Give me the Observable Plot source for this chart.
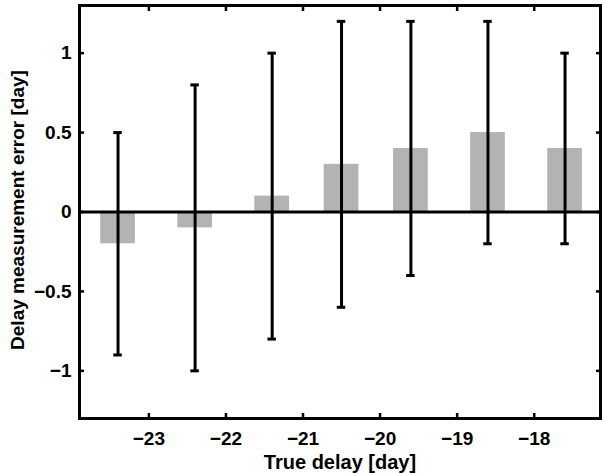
<!DOCTYPE html>
<html>
<head>
<meta charset="utf-8">
<script src="https://cdn.jsdelivr.net/npm/d3@7"></script>
<script src="https://cdn.jsdelivr.net/npm/@observablehq/plot@0.6"></script>
<style>
  html, body { margin: 0; padding: 0; background: #fff; }
  #chart svg { display: block; }
</style>
</head>
<body>
<div id="chart"></div>
<script>
const trueDelay = [-23.4, -22.4, -21.4, -20.5, -19.6, -18.6, -17.6];
const meanError = [-0.2, -0.1, 0.1, 0.3, 0.4, 0.5, 0.4];
const errLow    = [-0.9, -1.0, -0.8, -0.6, -0.4, -0.2, -0.2];
const errHigh   = [0.5, 0.8, 1.0, 1.2, 1.2, 1.2, 1.0];
const xTicks = [-23, -22, -21, -20, -19, -18];
const yTicks = [-1, -0.5, 0, 0.5, 1];

const data = trueDelay.map((x, i) => ({x, y: meanError[i], lo: errLow[i], hi: errHigh[i]}));
const halfBar = 0.225;
const halfCap = 0.055;

const font = "'Liberation Sans', Arial, Helvetica, sans-serif";
const fmtY = d => d3.format("")(d).replace("-", "\u2212");
const fmtX = d => String(d).replace("-", "\u2212");

const chart = Plot.plot({
  width: 603,
  height: 473,
  marginLeft: 79,
  marginRight: 3,
  marginTop: 5,
  marginBottom: 55,
  style: {fontFamily: font, fontSize: "19px", fontWeight: "bold", color: "#000", background: "#fff", overflow: "visible"},
  x: {domain: [-23.9, -17.14]},
  y: {domain: [-1.3, 1.3]},
  marks: [
    Plot.rect(data, {x1: d => d.x - halfBar, x2: d => d.x + halfBar, y1: 0, y2: "y", fill: "#b3b3b3"}),
    Plot.ruleY([0], {stroke: "#000", strokeWidth: 3}),
    Plot.ruleX(data, {x: "x", y1: "lo", y2: "hi", stroke: "#000", strokeWidth: 3}),
    Plot.ruleY(data, {y: "lo", x1: d => d.x - halfCap, x2: d => d.x + halfCap, stroke: "#000", strokeWidth: 3}),
    Plot.ruleY(data, {y: "hi", x1: d => d.x - halfCap, x2: d => d.x + halfCap, stroke: "#000", strokeWidth: 3}),
    // tick labels
    Plot.axisX(xTicks, {anchor: "bottom", tickSize: 0, tickPadding: 13, tickFormat: fmtX, label: null, fontSize: 19}),
    Plot.axisY(yTicks, {anchor: "left", tickSize: 0, tickPadding: 8, tickFormat: fmtY, label: null, fontSize: 19}),
    // inward ticks on all four sides
    Plot.axisX(xTicks, {anchor: "bottom", tickSize: -5, strokeWidth: 2.5, fill: "none", label: null}),
    Plot.axisX(xTicks, {anchor: "top", tickSize: -5, strokeWidth: 2.5, fill: "none", label: null}),
    Plot.axisY(yTicks, {anchor: "left", tickSize: -5, strokeWidth: 2.5, fill: "none", label: null}),
    Plot.axisY(yTicks, {anchor: "right", tickSize: -5, strokeWidth: 2.5, fill: "none", label: null}),
    Plot.frame({stroke: "#000", strokeWidth: 3}),
    Plot.text(["True delay [day]"], {frameAnchor: "bottom", textAnchor: "middle", lineAnchor: "bottom", dy: 50, fontSize: 20, fontWeight: "bold", fill: "#000"}),
    Plot.text(["Delay measurement error [day]"], {frameAnchor: "left", textAnchor: "middle", lineAnchor: "middle", rotate: -90, dx: -62, dy: -2, fontSize: 19, fontWeight: "bold", fill: "#000"})
  ]
});
document.getElementById("chart").appendChild(chart);
</script>
</body>
</html>
